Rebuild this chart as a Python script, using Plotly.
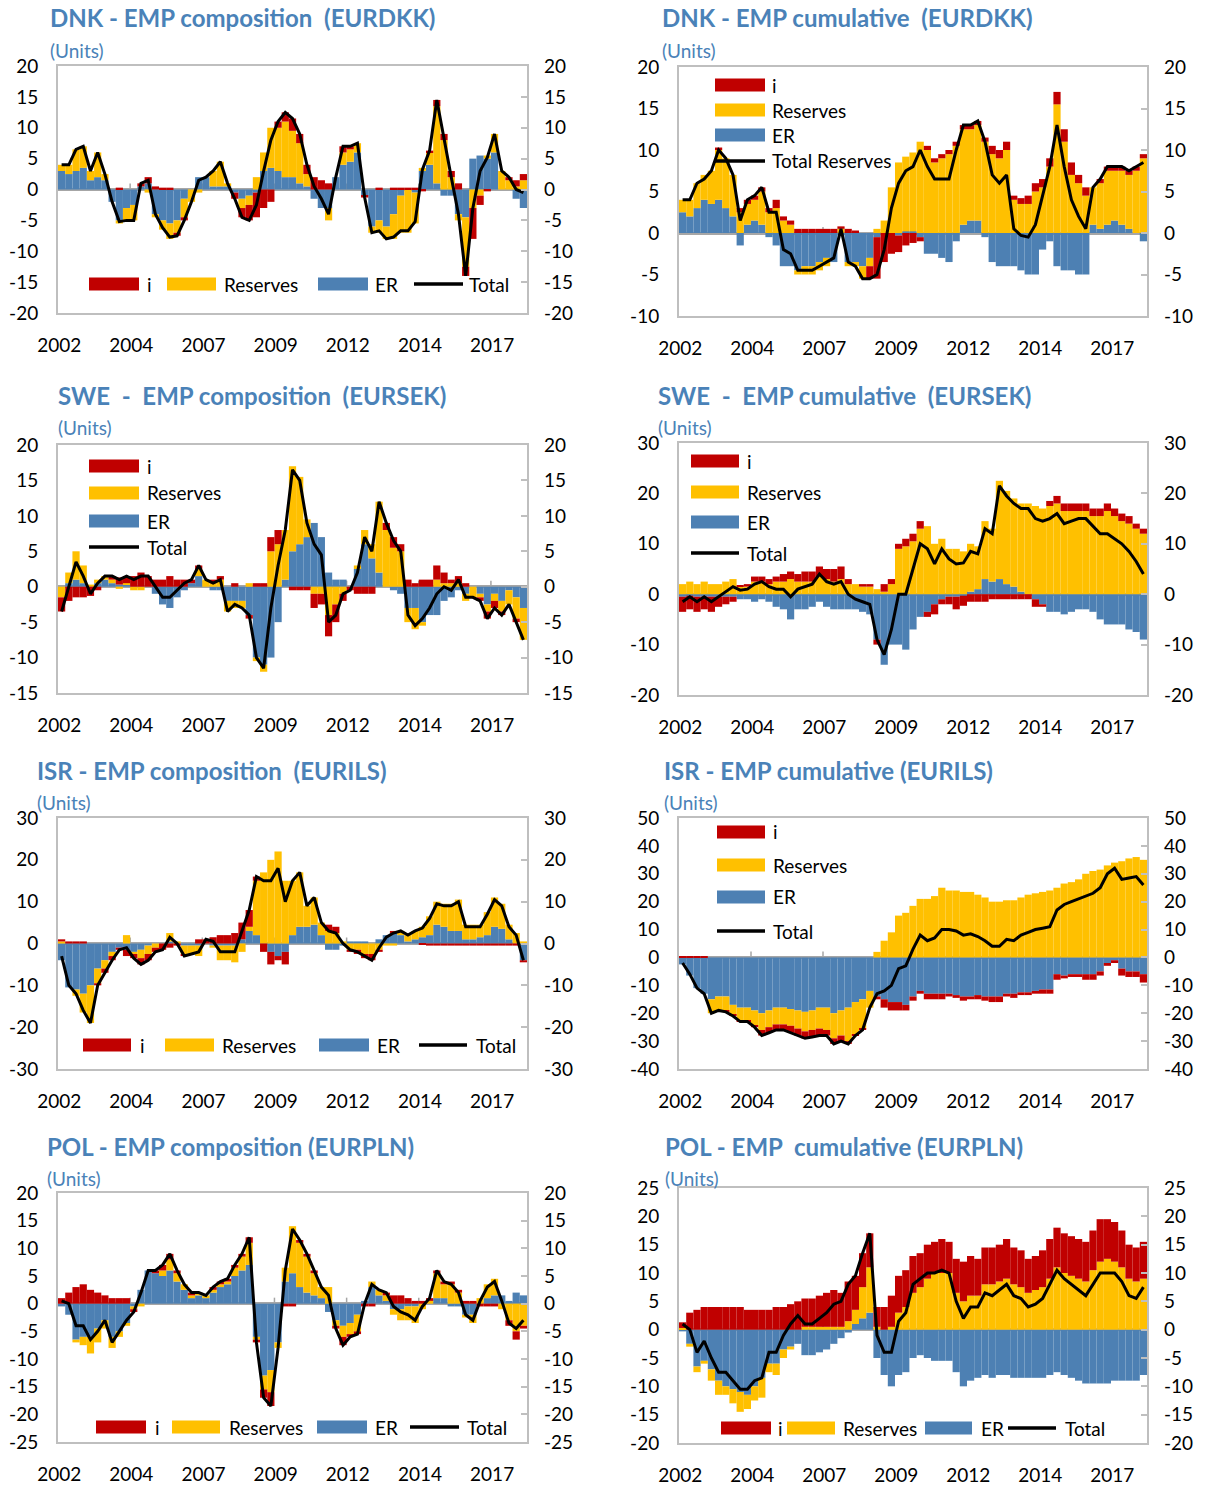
import plotly.graph_objects as go

# ---------------------------------------------------------------------------
# DATA  (quarterly readings, 2002Q1 .. 2018Q1, 65 values per series)
# ---------------------------------------------------------------------------
year_tick_labels = ["2002", "2004", "2007", "2009", "2012", "2014", "2017"]
year_tick_months = [0, 30, 60, 90, 120, 150, 180]   # months since Jan 2002
n_quarters = 65

# --- DNK composition
dnk_comp_er = [3, 2.5, 3, 3.5, 1.5, 2, 1.5, -2, -5, -3,
               -2.5, 0.5, 1, -4, -5, -5.5, -5, -1.5, 0, 2,
               2, 0.5, 0.5, 0.5, -0.5, -1.5, -1, -0.5, 3, 3.5,
               3, 2, 2, 1, 0.5, -1.5, -3, -3, 2, 4,
               4.5, 6, -1, -6, -5, -6, -4, -1, 0, -0.5,
               3, 4, 1, -1, -1, -4, -4.5, 5, 5.5, 5,
               6, 0, 0, -1.5, -3]
dnk_comp_res = [1, 1.5, 3.5, 3.5, 1.5, 4, 1, 0, -0.5, -2,
                -2.5, 0, -0.5, -0.5, -1.5, -2.5, -2, -3, -2, -0.5,
                0, 2.5, 4, 0.5, 0, -1.5, -1.5, 2, 3, 6.5,
                7, 9, 7.5, 6.5, 2, 0, 0, -2, 0, 2,
                2, 1.5, 0, -1, -2, -2, -4, -6, -7, -5,
                0.5, 2, 12.5, 8, 2, -1, -8, -3, -1, 0.5,
                3, 3, 1.5, 0.5, 1.5]
dnk_comp_i = [0, 0, 0, 0, 0, 0, 0, 0, 0.3, 0,
              0, 0.5, 1, 0.5, 0.3, 0.3, -0.5, -0.5, 0, 0,
              0, 0, 0, 0, -1, -1.5, -2.5, -4, -3, -2,
              1, 1.5, 2, 1.5, 1.5, 2, 1.5, 1, 0, 1,
              0.5, 0, -0.3, 0, 0.3, 0, 0.3, 0.3, 0.3, 0.3,
              -0.3, 0.3, 1, 1, 1, 1, -1.5, -5, -1.5, -0.3,
              0, 0, 0.5, 1, 1]
dnk_comp_total = [4, 4, 6.5, 7, 3, 6, 2.5, -2, -5.2, -5,
                  -5, 1, 1.5, -4, -6.2, -7.7, -7.5, -5, -2, 1.5,
                  2, 3, 4.5, 1, -1.5, -4.5, -5, -2.5, 3, 8,
                  11, 12.5, 11.5, 9, 4, 0.5, -1.5, -4, 2, 7,
                  7, 7.5, -1.3, -7, -6.7, -8, -7.7, -6.7, -6.7, -5.2,
                  3.2, 6.3, 14.5, 8, 2, -4, -14, -3, 3, 5.2,
                  9, 3, 2, 0, -0.5]

# --- DNK cumulative
dnk_cum_er = [2.5, 2, 3, 4, 3.5, 4, 3, 2, -1.5, 1,
              1.5, 1, -0.5, -1.5, -4, -4, -4.5, -4, -4, -3.5,
              -3, -3.5, -0.3, -3.5, -3.5, -4, -3, -0.5, 0, 0,
              -0.3, 0.2, 0.2, -0.5, -2.5, -2.5, -3, -3.5, -1, 1,
              1.5, 1.5, -0.5, -3.5, -4, -4, -4, -4.5, -5, -5,
              -2, -1, -4, -4.5, -4.5, -5, -5, 1, 0.5, 1,
              1.5, 1, 0.5, 0, -1]
dnk_cum_res = [1.5, 2, 3, 3, 4, 6, 6, 5, 2.5, 2.5,
               2.5, 4, 2.5, 3, 1.5, 1, -0.5, -1, -1, -1,
               -1, 0, 0.5, -0.5, -0.5, -1.5, -1, 0.5, 1.5, 5.5,
               8.5, 9, 9.5, 11, 10, 8.5, 9, 9.5, 10.5, 11.5,
               11, 11.5, 11, 9.5, 9, 10, 4, 3.5, 3.5, 5,
               5.5, 8, 15.5, 11, 7, 6, 4.5, 4.5, 5.5, 6.5,
               6, 6.5, 6.5, 7.5, 9]
dnk_cum_i = [0, 0, 0, 0, 0, 0.3, 0, 0, 0.5, 0.5,
             0.5, 0.5, 0.5, 1, 0.5, 0.5, 0.5, 0.5, 0.5, 0.5,
             0.5, 0.5, 0.3, 0.5, 0.3, 0, -1.5, -5, -3.5, -2.5,
             -2, -1.5, -1.2, -0.5, 0.5, 0.5, 0.5, 0.5, 0.5, 0.5,
             0.5, 0.5, 0.5, 1, 1, 1, 0.5, 0.7, 1, 1,
             1, 1, 1.5, 1.5, 1.5, 1, 1, 0, 0.5, 0.5,
             0.5, 0.5, 0.5, 0.5, 0.5]
dnk_cum_total = [4, 4, 6, 6.5, 7.5, 10, 9, 7, 1.5, 4,
                 4.5, 5.5, 2.5, 2.5, -2, -2.5, -4.5, -4.5, -4.5, -4,
                 -3.5, -3, 0.5, -3.5, -4, -5.5, -5.5, -5, -2, 3,
                 6, 7.5, 8, 10, 8, 6.5, 6.5, 6.5, 10, 13,
                 13, 13.5, 11, 7, 6, 7, 0.5, -0.3, -0.5, 1,
                 4.5, 8, 13, 8, 4, 2, 0.5, 5.5, 6.5, 8,
                 8, 8, 7.5, 8, 8.5]

# --- SWE composition
swe_comp_er = [0, 0.5, 1, 0.5, 0, 0.5, 1, 0.5, 0.3, 0.3,
               0, 0, 0, -1, -2.5, -3, -1.5, -0.5, 0.5, 1.5,
               0, -0.5, -0.5, -2, -2, -2, -4, -10, -11, -10,
               -5, 1, 5, 6, 7, 9, 7, 2, 1, 1,
               0, 2.5, 6, 4, 2, 0, -0.5, -1, -3, -3,
               -5, -4, -4, -2, -1.5, -0.5, -1, 0, -1, -2.5,
               -1, -2, -0.5, -1.5, -3]
swe_comp_res = [-1.5, 1.5, 4, 2.5, 0.3, 0.5, 0.5, 0.5, -0.3, 0.2,
                -0.5, -0.5, 0, 0, 0, 0, 0, 0, 0, 1,
                1, 0.5, 1, -1.5, -1, -1, 0.5, -0.5, -1, 5,
                6, 7, 12, 9.5, 2.5, -1, -1, -4, -2.5, -1,
                0, 0.5, 2, 2, 10, 8, 5.5, 5, -2, -3,
                -0.5, 0, 1, 0.5, 0.5, 0.5, -1, -1.5, -0.5, -1,
                -1, -1.5, -2, -3, -4.5]
swe_comp_i = [-2, -2, -1.5, -1.5, -1.3, -0.5, 0, 0.5, 1, 1,
              1.5, 2, 1.5, 1, 1, 1.5, 1, 1, 0.5, 0.5,
              0, 0.5, 0.5, 0, 0.5, 0, -0.5, 0.5, 0.5, 2,
              2, 0, -0.5, -0.5, -0.5, -2, -1.5, -3, -2.5, -1,
              -0.5, -1, -1, -1, 0, 1, 1.5, 1, 1, 0.5,
              1, 1, 2, 1.5, 0.5, 1, 0.5, 0, -0.5, -1,
              -1, -0.5, 0, -0.5, 0]
swe_comp_total = [-3.5, 0, 3.5, 1.5, -1, 0.5, 1.5, 1.5, 1, 1.5,
                  1, 1.5, 1.5, 0, -1.5, -1.5, -0.5, 0.5, 1, 3,
                  1, 0.5, 1, -3.5, -2.5, -3, -4, -10, -11.5, -3,
                  3, 8, 16.5, 15, 9, 6, 4.5, -5, -4, -1,
                  -0.5, 2, 7, 5, 12, 9, 6.5, 5, -4, -5.5,
                  -4.5, -3, -1, 0, -0.5, 1, -1.5, -1.5, -2, -4.5,
                  -3, -4, -2.5, -5, -7.5]

# --- SWE cumulative
swe_cum_er = [-0.5, -0.3, -0.5, -0.5, -0.5, -0.5, -0.5, -0.5, -1, -1,
              -1.5, -1, -1.5, -2.5, -3, -5, -3, -3, -2.5, -1.5,
              -2.5, -3, -3, -3, -3, -3.5, -4, -9, -14, -10,
              -10, -11, -7, -4.5, -3.5, -2, -1, -0.5, -0.5, -0.3,
              0.5, 1, 3, 2.5, 3, 2, 1.5, 0.5, 0, -1,
              -2, -3.5, -3.5, -4, -3.5, -3, -3, -3.5, -5, -6,
              -6, -6, -7, -7.5, -9]
swe_cum_res = [2, 2.5, 2, 2.5, 2, 2, 2.5, 3, 1.5, 1.5,
               2.5, 2.5, 2, 2.5, 2.5, 3, 2.5, 2.5, 2.5, 3.5,
               3, 2.5, 3, 2, 2, 1.5, 1.5, 1, 0.5, 2,
               9, 9.5, 10.5, 13, 13.5, 10, 11, 9, 9, 8.5,
               9.5, 8.5, 11.5, 10.5, 19.5, 18.5, 17.5, 17.5, 18, 17.5,
               17, 17.5, 18, 16.5, 16.5, 16.5, 16.5, 15.5, 15.5, 16.5,
               15.5, 14.5, 14, 13, 12]
swe_cum_i = [-3, -2.7, -3, -2.5, -3, -2, -1.5, -1, 0.3, 0.5,
             1, 1, 1, 1, 1.5, 1.5, 1.5, 2, 2, 2,
             2, 2.5, 2.5, 1, 0, 0.5, 0.5, -1, 1.5, 1,
             1, 1.5, 1.5, 1.5, -1, -2, -1, -1.5, -2.5, -2,
             -1.5, -1.5, -1.5, -1, -1, -1, -1, -1, -1, -1.5,
             -0.5, 1, 1.5, 1.5, 1.5, 1.5, 1.5, 1.5, 1.5, 1.5,
             1.5, 1.5, 1.5, 1, 1]
swe_cum_total = [-1.5, -0.5, -1.5, -0.5, -1.5, -0.5, 0.5, 1.5, 0.8, 1,
                 2, 2.5, 1.5, 1, 1, -0.5, 1, 1.5, 2, 4,
                 2.5, 2, 2.5, 0, -1, -1.5, -2, -9, -12, -7,
                 0, 0, 5, 10, 9, 6, 9, 7, 6, 6.2,
                 8.5, 8, 13, 12, 21.5, 19.5, 18, 17, 17, 15,
                 14.5, 15, 16, 14, 14.5, 15, 15, 13.5, 12, 12,
                 11, 10, 8.5, 6.5, 4]

# --- ISR composition
isr_comp_er = [-4, -10.5, -11, -12, -10, -6, -4, -2, -1, -1.5,
               -2, -1.5, -0.5, 0, 0, 0.5, 0, -0.5, -0.5, -0.5,
               0, -0.5, -0.5, -0.5, -0.5, 1, 3, 2, 0, -2,
               -3, -2, 2, 4, 4, 4.5, 2, -1.5, -1.5, -0.5,
               0.5, 0.5, 0.5, 0, 1, 2, 2.5, 2, 0.5, 1,
               1.5, 2, 4.5, 4, 3, 3, 1, 1, 1.5, 2,
               4, 3.5, 1, 0, -4]
isr_comp_res = [0.5, 0, -1.5, -4.5, -9, -3.5, -2, -1, 0, 2,
                -0.5, -2, -2, -1, 0, 2, 0.5, -2, -2, -2.5,
                0, -0.5, -3.5, -3.5, -4, -2, 1, 13, 17, 20,
                22, 15, 13, 13, 5, 6.5, 3, 3, 2.5, 0.5,
                -1.5, -1.5, -2.5, -2.5, -1.5, -0.5, -0.5, 1, 1.5, 2,
                2.5, 4.5, 5.5, 5.5, 6.5, 7.5, 3.5, 3.5, 3, 5.5,
                7, 6, 3.5, 2.5, 0.5]
isr_comp_i = [0.5, 0.5, 0.5, 0.5, 0, -0.5, -1, -1, -0.5, -1.5,
              -1, -1.5, -1.5, -1, -1.5, -1, -0.5, -0.5, 0, 1,
              1, 1.5, 2, 2, 2.5, 4, 4, 1, -2, -3,
              -1, -3, 0, 0, 0, 0, 0, 1.5, 1.5, 0,
              -0.5, -1, -1, -1.5, -0.5, 0, 0.5, 0, 0, 0,
              -0.3, -0.5, -0.5, -0.5, -0.5, -0.5, -0.5, -0.5, -0.5, -0.5,
              -0.5, -0.5, -0.5, -0.5, -0.5]
isr_comp_total = [-3, -10, -12, -16, -19, -10, -7, -4, -1.5, -1,
                  -3.5, -5, -4, -2, -1.5, 1.5, 0, -3, -2.5, -2,
                  1, 0.5, -2, -2, -2, 3, 8, 16, 15, 15,
                  18, 10, 15, 17, 9, 11, 5, 3, 2.5, 0,
                  -1.5, -2, -3, -4, -1, 1.5, 2.5, 3, 2, 3,
                  3.7, 6, 9.5, 9, 9, 10, 4, 4, 4, 7,
                  10.5, 9, 4, 2, -4]

# --- ISR cumulative
isr_cum_er = [-2.5, -6.5, -11, -13, -15, -14, -14, -17, -18, -18,
              -19, -20, -19, -18, -18, -18.5, -19, -19.5, -19, -18,
              -18, -20, -19, -18, -16, -15, -12, -14, -15, -16,
              -16, -17, -14, -12, -13, -13, -13, -13, -13.5, -14,
              -14, -13.5, -14, -14, -14, -13, -13, -12.5, -12.5, -12,
              -11.5, -11.5, -6, -6.5, -6, -6, -6, -6, -5, -2,
              -1, -4, -5, -5, -6]
isr_cum_res = [0, 0, 0, 0, -5, -5, -5, -3.5, -4.5, -4.5,
               -5.5, -6, -6, -6, -6, -6, -6.5, -7, -7, -7.5,
               -8, -9, -9, -12, -11.5, -10.5, -6, 2, 6, 9,
               15, 16, 18.5, 21, 21, 22, 25, 24, 24, 23.5,
               23.5, 22.5, 21.5, 20, 20, 20.5, 20.5, 21.5, 22.5, 23,
               23.5, 24, 25, 26.5, 27, 28, 30, 31, 31.5, 33,
               34, 34.5, 35.5, 36, 35]
isr_cum_i = [0.5, 0.5, 0.3, 0.3, 0, 0, -0.5, -0.5, -0.5, -0.5,
             -0.5, -2, -2, -2, -2, -2.5, -2.5, -2.5, -2.5, -2.5,
             -2, -2, -2, -1, -0.5, -0.5, 0, -1, -3, -3,
             -3, -2, -1.5, -1, -2, -2, -2, -1, -1, -1.5,
             -1, -1.5, -1.5, -2, -2, -1, -1.5, -1, -1, -1,
             -1.5, -1.5, -2, -1, -1, -1, -2, -2, -1.5, -1,
             -1, -2.5, -2, -2, -3]
isr_cum_total = [-2, -6, -11, -13, -20, -19, -19.5, -21, -23, -23,
                 -25, -28, -27, -26, -26, -27, -28, -29, -28.5, -28,
                 -28, -31, -30, -31, -28, -26, -18, -13, -12, -10,
                 -4, -3, 3, 8, 6, 7, 10, 10, 9.5, 8,
                 8.5, 7.5, 6, 4, 4, 6.5, 6, 8, 9, 10,
                 10.5, 11, 17, 19, 20, 21, 22, 23, 25, 30,
                 32, 28, 28.5, 29, 26]

# --- POL composition
pol_comp_er = [-0.5, -2, -6.5, -6, -6, -4.5, -3, -6, -5, -3.5,
               -0.5, 2.5, 6, 5.5, 5, 6, 4, 2.5, 1, 1.5,
               1, 2, 3, 3.5, 5, 6, 7, -6, -13, -12,
               -7, 4, 5.5, 3, 2, 1.5, 1, -1.5, -3, -4,
               -3.5, -2, 0.5, 3, 1.5, 0.5, -1, -1, -0.5, -0.5,
               0, 0, 1, 1, -0.5, -0.5, -2, -2, 0, 1,
               1.5, 1.5, 0.5, 2, 1.5]
pol_comp_res = [0, 0, -0.5, -1.5, -3, -2.5, -1.5, -2, -1, -0.5,
                -0.5, -0.5, 0, 0, 1, 2, 1.5, 1, 0.5, 0.5,
                0.5, 0.5, 0.5, 0.5, 1.5, 2.5, 4, -0.5, -2.5, -4,
                -1, 2.5, 8.5, 8, 6.5, 4, 2, 3, -1, -2,
                -2, -3, 0, 1, 1, 1, -1, -2, -2.5, -3,
                -1, 0.5, 4.5, 2.5, 3.5, 2, -0.5, -1.5, 1, 2.5,
                3, -1, -3, -5, -4]
pol_comp_i = [1, 2, 3, 3.5, 2.5, 2, 1.5, 1, 1, 1,
              -0.5, 0, 0, 0.5, 1, 1, 0.5, 0, 0.5, 0,
              0, 0.5, 0.5, 0.5, 0.5, 0.5, 1, -0.5, -1.5, -2.5,
              0, -0.5, -0.5, 0.5, 0.5, 0.5, 0, 0, -0.5, -1.5,
              -0.5, -0.5, -0.5, -0.5, 0, 0.5, 1.5, 1.5, 1, 0.5,
              0.5, 0.5, 0.5, 0.5, 0.5, 0.5, 0.5, 0.5, -0.5, -0.5,
              -0.5, 0, -1, -1.5, -0.5]
pol_comp_total = [0.5, 0, -4, -4, -6.5, -5, -3, -7, -5, -3,
                  -1.5, 2, 6, 6, 7, 9, 6, 3.5, 2, 2,
                  1.5, 3, 4, 4.5, 7, 9, 12, -7, -17, -18.5,
                  -8, 6, 13.5, 11.5, 9, 6, 3, 1.5, -4.5, -7.5,
                  -6, -5.5, 0, 3.5, 2.5, 2, -0.5, -1.5, -2, -3,
                  -0.5, 1, 6, 4, 3.5, 2, -2, -3, 0.5, 3,
                  4, 0.5, -3.5, -4.5, -3]

# --- POL cumulative
pol_cum_er = [-0.3, -2.5, -6.5, -5.5, -7, -9, -10, -10.5, -11, -11.5,
              -10, -8.5, -6, -6, -3.5, -3, -2.5, -4.5, -4.5, -4,
              -3.5, -2.5, -1.5, -0.5, 1, 2, 3, -5, -8, -10,
              -8, -7.5, -5, -4.5, -5, -5.5, -5.5, -5.5, -7.5, -10,
              -9, -8.5, -8, -8.5, -8, -8, -8.5, -8.5, -8.5, -8.5,
              -8.5, -8, -7.5, -8, -8.5, -9, -9.5, -9.5, -9.5, -9.5,
              -9, -9, -9, -9, -8]
pol_cum_res = [0.3, -0.5, -1, -0.5, -2, -2.5, -1.5, -2.5, -3.5, -2.5,
               -2.5, -3.5, -1.5, -2, -1.5, -0.5, 0, 0.5, 0.5, 0.5,
               0.5, 0.5, 0.5, 1.5, 2.5, 5.5, 8, 0.5, 0, 0.5,
               3, 4, 6.5, 7.5, 9, 10, 10, 10, 6.5, 5,
               6, 6, 8, 8, 8.5, 9, 8, 7.5, 6.5, 7,
               7.5, 9, 11, 10, 9.5, 9, 8.5, 10.5, 12, 12.5,
               12, 11, 9, 8.5, 9]
pol_cum_i = [1, 3, 3.5, 4, 4, 4, 4, 4, 4, 3.5,
             3.5, 3.5, 3.5, 4, 4, 4.5, 5, 5, 5, 5.5,
             6, 6.5, 6, 7, 6, 6, 6, 3.5, 4, 5.5,
             6.5, 6.5, 6.5, 6, 6, 5.5, 6, 5.5, 6, 7,
             7, 6.5, 6.5, 6.5, 6.5, 7, 6.5, 6.5, 6, 6,
             6.5, 7, 7, 7, 7, 7, 7, 7, 7.5, 7,
             7, 6.5, 6, 6, 6.5]
pol_cum_total = [1, 0, -4, -2, -5, -7.5, -7.5, -9, -10.5, -10.5,
                 -9, -8.5, -4, -4, -1, 1, 2.5, 1, 1, 2,
                 3, 4.5, 5, 8, 9.5, 13.5, 17, -1, -4, -4,
                 1.5, 3, 8, 9, 10, 10, 10.5, 10, 5, 2,
                 4, 4, 6.5, 6, 7, 8, 6, 5.5, 4, 4.5,
                 5.5, 8, 10.5, 9, 8, 7, 6, 8, 10, 10,
                 10, 8.5, 6, 5.5, 7.5]

# ---------------------------------------------------------------------------
# STYLE / LAYOUT
# ---------------------------------------------------------------------------
W, H = 1206, 1486
FONT = "Lato"
C_I, C_RES, C_ER = "#C00000", "#FFC000", "#4D80B3"
TITLE_C = "#4A82B8"
BOX_C = "#BFBFBF"
ZERO_C = "#A6A6A6"
TICK_FS = 19
LEG_FS = 19
NB = "\u00a0"

# month index of the centre of each quarter (months since Jan 2002)
x_months = [3 * q + 1 for q in range(n_quarters)]


def fx(p):
    return p / W


def fy(p):
    return 1 - p / H


panels = [
    dict(title="DNK - EMP composition" + NB + " (EURDKK)", data=(dnk_comp_er, dnk_comp_res, dnk_comp_i, dnk_comp_total),
         line_name="Total", yr=(-20, 20, 5), box=(58, 66, 527, 313), tpos=(48, 18, 51),
         leg=("h", 284, [(89, 139, 145), (167, 216, 222), (318, 368, 373), (414, 463, 467)])),
    dict(title="DNK - EMP cumulative" + NB + " (EURDKK)", data=(dnk_cum_er, dnk_cum_res, dnk_cum_i, dnk_cum_total),
         line_name="Total Reserves", yr=(-10, 20, 5), box=(679, 67, 1147, 316), tpos=(660, 18, 51),
         leg=("v", (715, 765, 770), [85, 110, 135, 161])),
    dict(title="SWE" + NB + " -" + NB + " EMP composition" + NB + " (EURSEK)", data=(swe_comp_er, swe_comp_res, swe_comp_i, swe_comp_total),
         line_name="Total", yr=(-15, 20, 5), box=(58, 445, 527, 693), tpos=(56, 395, 427),
         leg=("v", (89, 139, 145), [466, 493, 521, 547])),
    dict(title="SWE" + NB + " -" + NB + " EMP cumulative" + NB + " (EURSEK)", data=(swe_cum_er, swe_cum_res, swe_cum_i, swe_cum_total),
         line_name="Total", yr=(-20, 30, 10), box=(679, 443, 1147, 695), tpos=(656, 395, 427),
         leg=("v", (691, 739, 745), [461, 492, 522, 553])),
    dict(title="ISR - EMP composition" + NB + " (EURILS)", data=(isr_comp_er, isr_comp_res, isr_comp_i, isr_comp_total),
         line_name="Total", yr=(-30, 30, 10), box=(58, 818, 527, 1069), tpos=(35, 770, 802),
         leg=("h", 1045, [(83, 131, 138), (165, 214, 220), (319, 369, 375), (419, 467, 474)])),
    dict(title="ISR - EMP cumulative (EURILS)", data=(isr_cum_er, isr_cum_res, isr_cum_i, isr_cum_total),
         line_name="Total", yr=(-40, 50, 10), box=(679, 818, 1147, 1069), tpos=(662, 770, 802),
         leg=("v", (717, 765, 771), [832, 865, 897, 931])),
    dict(title="POL - EMP composition (EURPLN)", data=(pol_comp_er, pol_comp_res, pol_comp_i, pol_comp_total),
         line_name="Total", yr=(-25, 20, 5), box=(58, 1193, 527, 1442), tpos=(45, 1146, 1178),
         leg=("h", 1427, [(96, 146, 153), (172, 220, 227), (317, 367, 373), (410, 459, 465)])),
    dict(title="POL - EMP" + NB + " cumulative (EURPLN)", data=(pol_cum_er, pol_cum_res, pol_cum_i, pol_cum_total),
         line_name="Total", yr=(-20, 25, 5), box=(679, 1188, 1147, 1443), tpos=(663, 1146, 1178),
         leg=("h", 1428, [(721, 771, 776), (787, 835, 841), (925, 972, 979), (1008, 1056, 1063)])),
]

fig = go.Figure()
layout = dict(width=W, height=H, autosize=False, margin=dict(l=0, r=0, t=0, b=0, pad=0),
              paper_bgcolor="white", plot_bgcolor="white", barmode="relative",
              showlegend=False, font=dict(family=FONT, color="black"))
annotations, shapes = [], []
tick_font = dict(family=FONT, size=TICK_FS, color="black")

for k, p in enumerate(panels, start=1):
    sfx = "" if k == 1 else str(k)
    xa, ya, yr_ax = "x" + sfx, "y" + sfx, "y" + str(k + 8)
    er, res, ii, tot = p["data"]
    for arr in p["data"]:
        assert len(arr) == n_quarters, (p["title"], len(arr))
    ymin, ymax, dt = p["yr"]
    x0, y0, x1, y1 = p["box"]
    yticks = list(range(ymin, ymax + 1, dt))
    ylabels = [str(v) for v in yticks]          # plain hyphen minus, as in the original

    for vals, col in ((er, C_ER), (res, C_RES), (ii, C_I)):
        fig.add_trace(go.Bar(x=x_months, y=vals, width=3, marker=dict(color=col, line=dict(width=0)),
                             xaxis=xa, yaxis=ya, hoverinfo="skip"))
    fig.add_trace(go.Scatter(x=x_months, y=tot, mode="lines", line=dict(color="black", width=3),
                             xaxis=xa, yaxis=ya, hoverinfo="skip"))
    fig.add_trace(go.Scatter(x=[None], y=[None], xaxis=xa, yaxis=yr_ax, hoverinfo="skip"))

    layout["xaxis" + sfx] = dict(domain=[fx(x0), fx(x1)], anchor=ya, range=[-0.5, 194.5],
                                 tickvals=year_tick_months, ticktext=year_tick_labels,
                                 showline=True, mirror=True, linecolor=BOX_C, linewidth=2,
                                 showgrid=False, zeroline=False, ticks="", tickfont=tick_font,
                                 ticklabelstandoff=14, fixedrange=True, automargin=False)
    layout["yaxis" + sfx] = dict(domain=[fy(y1), fy(y0)], anchor=xa, range=[ymin, ymax],
                                 tickvals=yticks, ticktext=ylabels, showline=True, mirror=True,
                                 linecolor=BOX_C, linewidth=2, showgrid=False, zeroline=True,
                                 zerolinecolor=ZERO_C, zerolinewidth=2.5, ticks="",
                                 tickfont=tick_font, ticklabelstandoff=14, fixedrange=True,
                                 automargin=False)
    layout["yaxis" + str(k + 8)] = dict(overlaying=ya, side="right", anchor=xa, range=[ymin, ymax],
                                        tickvals=yticks, ticktext=ylabels, ticks="inside",
                                        ticklen=6, tickwidth=2, tickcolor=BOX_C, showline=False,
                                        showgrid=False, zeroline=False, tickfont=tick_font,
                                        ticklabelstandoff=16, fixedrange=True, automargin=False)

    # small category tick marks sitting on the zero line
    tick_h = 6 * (ymax - ymin) / (y1 - y0)
    for tv in year_tick_months[1:]:
        shapes.append(dict(type="line", xref=xa, yref=ya, x0=tv - 0.5, x1=tv - 0.5, y0=0, y1=tick_h,
                           line=dict(color=ZERO_C, width=1.5), layer="below"))

    # title and units
    tx, ty, uy = p["tpos"]
    annotations.append(dict(text="<b>" + p["title"] + "</b>", x=fx(tx), y=fy(ty), xref="paper",
                            yref="paper", xanchor="left", yanchor="middle", showarrow=False,
                            font=dict(family=FONT, size=24, color=TITLE_C)))
    annotations.append(dict(text="(Units)", x=fx(tx), y=fy(uy), xref="paper", yref="paper",
                            xanchor="left", yanchor="middle", showarrow=False,
                            font=dict(family=FONT, size=19, color=TITLE_C)))

    # hand-built legend
    names = ["i", "Reserves", "ER", p["line_name"]]
    colors = [C_I, C_RES, C_ER, None]
    if p["leg"][0] == "h":
        yc = p["leg"][1]
        items = [(a, b, t, yc) for (a, b, t) in p["leg"][2]]
    else:
        a, b, t = p["leg"][1]
        items = [(a, b, t, yc) for yc in p["leg"][2]]
    for (a, b, t, yc), nm, col in zip(items, names, colors):
        if col is None:
            shapes.append(dict(type="line", xref="paper", yref="paper", x0=fx(a), x1=fx(b),
                               y0=fy(yc), y1=fy(yc), line=dict(color="black", width=3.5)))
        else:
            shapes.append(dict(type="rect", xref="paper", yref="paper", x0=fx(a), x1=fx(b),
                               y0=fy(yc + 6.5), y1=fy(yc - 6.5), fillcolor=col,
                               line=dict(width=0)))
        annotations.append(dict(text=nm, x=fx(t), y=fy(yc), xref="paper", yref="paper",
                                xanchor="left", yanchor="middle", showarrow=False,
                                font=dict(family=FONT, size=LEG_FS, color="black")))

layout["annotations"] = annotations
layout["shapes"] = shapes
fig.update_layout(**layout)

fig.write_html("out.html", config={"displayModeBar": False},
               post_script="document.body.style.margin='0';")
